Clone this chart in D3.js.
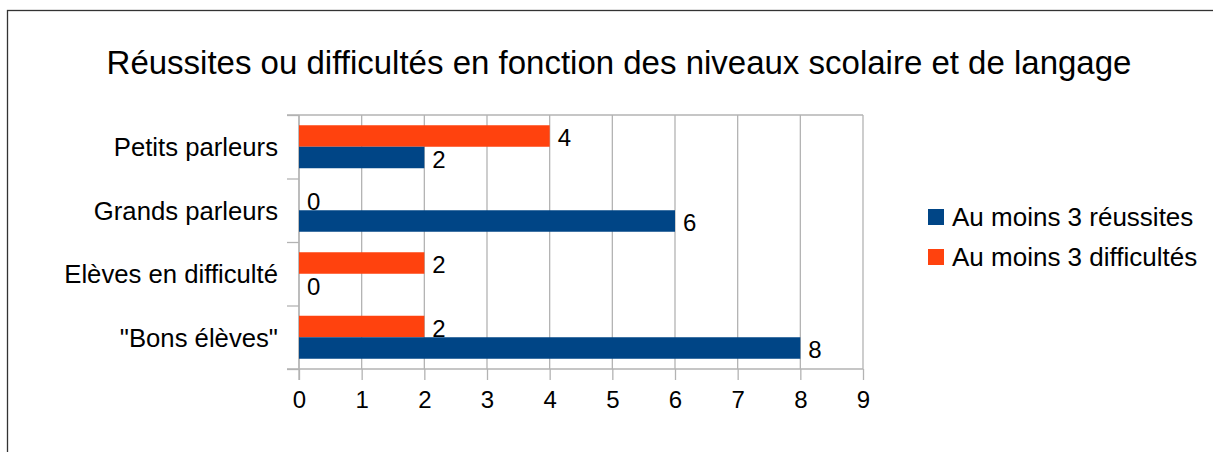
<!DOCTYPE html>
<html>
<head>
<meta charset="utf-8">
<script src="https://cdn.jsdelivr.net/npm/d3@7"></script>
<style>
  body { margin: 0; background: #fff; }
  text { font-family: "Liberation Sans", Arial, sans-serif; fill: #000; }
</style>
</head>
<body>
<div id="chart"></div>
<script>
const categories = ['Petits parleurs', 'Grands parleurs', 'Elèves en difficulté', '"Bons élèves"'];
const seriesNames = ['Au moins 3 réussites', 'Au moins 3 difficultés'];
const reussites = [2, 6, 0, 8];
const difficultes = [4, 0, 2, 2];
const xTicks = [0, 1, 2, 3, 4, 5, 6, 7, 8, 9];
const colors = ['#004586', '#ff420e'];

const W = 1213, H = 452;
const plot = { left: 299, right: 863, top: 115, bottom: 369 };

const svg = d3.select('#chart').append('svg')
    .attr('width', W)
    .attr('height', H);

// outer frame (goes off the bottom/right of the picture)
svg.append('rect')
    .attr('x', 7.5).attr('y', 10.5)
    .attr('width', W).attr('height', H)
    .attr('fill', '#fff')
    .attr('stroke', '#333')
    .attr('stroke-width', 1.3);

svg.append('text')
    .attr('x', 619).attr('y', 74)
    .attr('text-anchor', 'middle')
    .style('font-size', '33px')
    .text('Réussites ou difficultés en fonction des niveaux scolaire et de langage');

const x = d3.scaleLinear().domain([0, 9]).range([plot.left, plot.right]);
const y = d3.scaleBand().domain(categories).range([plot.top, plot.bottom]);
// series inside a band: difficultés on top, réussites below
const sub = d3.scaleBand().domain([1, 0]).range([0, y.bandwidth()]).paddingOuter(0.477);

// vertical grid
svg.append('g')
    .selectAll('line')
    .data(xTicks)
    .enter().append('line')
    .attr('x1', d => x(d)).attr('x2', d => x(d))
    .attr('y1', plot.top).attr('y2', plot.bottom)
    .attr('stroke', '#b3b3b3')
    .attr('stroke-width', 1.3);

// top border of plot
svg.append('line')
    .attr('x1', plot.left - 12).attr('x2', plot.right)
    .attr('y1', plot.top).attr('y2', plot.top)
    .attr('stroke', '#b3b3b3')
    .attr('stroke-width', 1.3);

const xAxis = d3.axisBottom(x).tickValues(xTicks).tickSize(11).tickPadding(11).tickFormat(d3.format('d'));
const gx = svg.append('g')
    .attr('transform', 'translate(0,' + plot.bottom + ')')
    .call(xAxis);
gx.select('.domain').attr('stroke', '#b3b3b3').attr('stroke-width', 1.3)
    .attr('d', 'M' + (plot.left - 12) + ',0H' + plot.right);
gx.selectAll('.tick line').attr('stroke', '#b3b3b3').attr('stroke-width', 1.3);
gx.selectAll('.tick text').style('font-size', '24px').style('font-family', '"Liberation Sans", Arial, sans-serif');

// category boundary ticks on the left axis
const yEdge = d3.scaleLinear().domain([0, categories.length]).range([plot.top, plot.bottom]);
const gy = svg.append('g')
    .attr('transform', 'translate(' + plot.left + ',0)')
    .call(d3.axisLeft(yEdge).ticks(4).tickSize(12).tickFormat(''));
gy.select('.domain').attr('stroke', '#b3b3b3').attr('stroke-width', 1.3).attr('d', 'M0,' + plot.top + 'V' + (plot.bottom + 11));
gy.selectAll('.tick line').attr('stroke', '#b3b3b3').attr('stroke-width', 1.3);

svg.append('g')
    .selectAll('text')
    .data(categories)
    .enter().append('text')
    .attr('x', 278)
    .attr('y', d => y(d) + y.bandwidth() / 2)
    .attr('dy', '0.36em')
    .attr('text-anchor', 'end')
    .style('font-size', '25.7px')
    .text(d => d);

const rows = [];
categories.forEach((c, i) => {
    rows.push({ cat: c, s: 1, v: difficultes[i] });
    rows.push({ cat: c, s: 0, v: reussites[i] });
});

svg.append('g')
    .selectAll('rect')
    .data(rows)
    .enter().append('rect')
    .attr('x', x(0))
    .attr('y', d => y(d.cat) + sub(d.s))
    .attr('width', d => x(d.v) - x(0))
    .attr('height', sub.bandwidth())
    .attr('fill', d => colors[d.s]);

svg.append('g')
    .selectAll('text')
    .data(rows)
    .enter().append('text')
    .attr('x', d => x(d.v) + 8)
    .attr('y', d => y(d.cat) + sub(d.s) + sub.bandwidth() / 2)
    .attr('dy', '0.42em')
    .style('font-size', '24px')
    .text(d => d.v);

const legend = svg.append('g')
    .selectAll('g')
    .data(seriesNames)
    .enter().append('g')
    .attr('transform', (d, i) => 'translate(928,' + (217 + i * 40) + ')');
legend.append('rect')
    .attr('x', 0).attr('y', -8)
    .attr('width', 16).attr('height', 16)
    .attr('fill', (d, i) => colors[i]);
legend.append('text')
    .attr('x', 24).attr('dy', '0.36em')
    .style('font-size', '26px')
    .text(d => d);
</script>
</body>
</html>
